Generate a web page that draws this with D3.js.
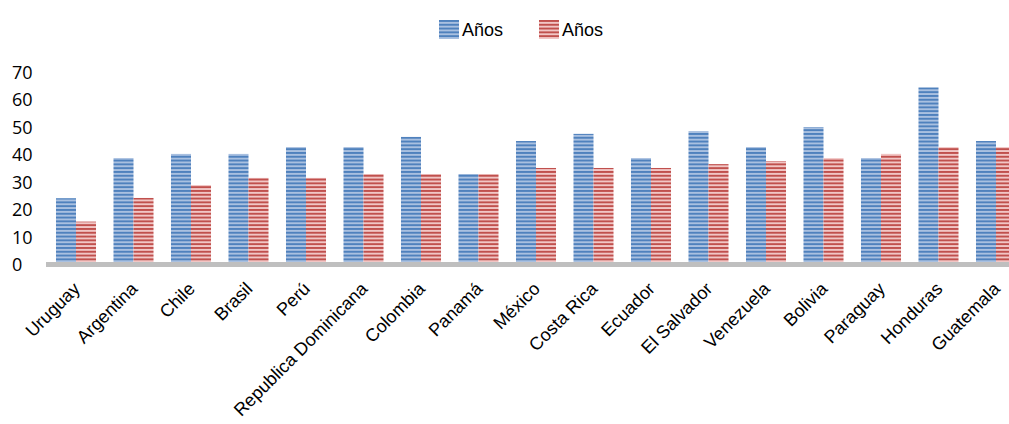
<!DOCTYPE html>
<html>
<head>
<meta charset="utf-8">
<script src="https://cdn.jsdelivr.net/npm/d3@7"></script>
<style>
  body { margin: 0; background: #fff; }
  svg { display: block; }
</style>
</head>
<body>
<div id="chart"></div>
<script>
// Data
const countries = ["Uruguay", "Argentina", "Chile", "Brasil", "Perú", "Republica Dominicana",
  "Colombia", "Panamá", "México", "Costa Rica", "Ecuador", "El Salvador", "Venezuela",
  "Bolivia", "Paraguay", "Honduras", "Guatemala"];
const seriesNames = ["Años", "Años"];
const blueValues = [24.1, 38.7, 40.2, 40.2, 42.7, 42.7, 46.4, 32.9, 44.9, 47.5, 38.7, 48.5, 42.7, 50.0, 38.7, 64.4, 44.9];
const redValues = [15.6, 24.2, 28.9, 31.5, 31.5, 32.9, 32.9, 32.9, 35.1, 35.1, 35.1, 36.5, 37.6, 38.7, 40.2, 42.7, 42.7];
const yTicks = [0, 10, 20, 30, 40, 50, 60, 70];

document.addEventListener("DOMContentLoaded", () => {
  const width = 1009;
  const height = 424;

  const svg = d3.select("#chart")
    .append("svg")
    .attr("width", width)
    .attr("height", height);

  // striped fills
  const defs = svg.append("defs");
  const patterns = [
    { id: "stripeBlue", dark: "#4f81bd", light: "#a9c0e0" },
    { id: "stripeRed", dark: "#c0504d", light: "#f1c6c5" }
  ];
  patterns.forEach((p) => {
    const pat = defs.append("pattern")
      .attr("id", p.id)
      .attr("patternUnits", "userSpaceOnUse")
      .attr("width", 8)
      .attr("height", 3.8);
    pat.append("rect").attr("width", 8).attr("height", 3.8).attr("fill", p.light);
    pat.append("rect").attr("width", 8).attr("height", 1.9).attr("fill", p.dark);
  });

  // scales
  const x = d3.scaleBand()
    .domain(countries)
    .range([47.25, 1024.75])
    .paddingInner(0.304)
    .paddingOuter(0.152);

  const xSub = d3.scaleBand()
    .domain([0, 1])
    .range([0, x.bandwidth()]);

  const y = d3.scaleLinear()
    .domain([0, 70])
    .range([264.5, 72]);

  // bars
  const series = [blueValues, redValues];
  const fills = ["url(#stripeBlue)", "url(#stripeRed)"];

  series.forEach((vals, s) => {
    svg.append("g")
      .selectAll("rect")
      .data(vals)
      .enter()
      .append("rect")
      .attr("x", (d, i) => x(countries[i]) + xSub(s))
      .attr("y", (d) => y(d))
      .attr("width", xSub.bandwidth())
      .attr("height", (d) => y(0) - y(d))
      .attr("fill", fills[s]);
  });

  // category axis (thick grey base line)
  svg.append("line")
    .attr("x1", 46)
    .attr("x2", width)
    .attr("y1", y(0))
    .attr("y2", y(0))
    .attr("stroke", "#bfbfbf")
    .attr("stroke-width", 5);

  // y labels, left aligned like the original
  const yAxis = svg.append("g")
    .attr("transform", "translate(12,0)")
    .call(d3.axisLeft(y).tickValues(yTicks).tickSize(0).tickPadding(0));
  yAxis.select(".domain").remove();
  yAxis.selectAll("text")
    .attr("x", 0)
    .attr("text-anchor", "start")
    .attr("dy", "0.36em")
    .style("font-family", "'Open Sans', sans-serif")
    .style("font-size", "18px")
    .attr("fill", "#000");

  // x labels rotated
  svg.append("g")
    .selectAll("text")
    .data(countries)
    .enter()
    .append("text")
    .attr("transform", (d) => `translate(${x(d) + x.bandwidth() / 2 + 5},290) rotate(-45)`)
    .attr("text-anchor", "end")
    .style("font-family", "'Liberation Sans', Arial, sans-serif")
    .style("font-size", "18px")
    .attr("fill", "#000")
    .text((d) => d);

  // legend
  const legend = svg.append("g")
    .selectAll("g")
    .data(seriesNames)
    .enter()
    .append("g")
    .attr("transform", (d, i) => `translate(${439 + i * 100},20)`);

  legend.append("rect")
    .attr("width", 20)
    .attr("height", 19)
    .attr("fill", (d, i) => fills[i]);

  legend.append("text")
    .attr("x", 23)
    .attr("y", 16)
    .style("font-family", "'Liberation Sans', Arial, sans-serif")
    .style("font-size", "18px")
    .attr("fill", "#000")
    .text((d) => d);
});
</script>
</body>
</html>
